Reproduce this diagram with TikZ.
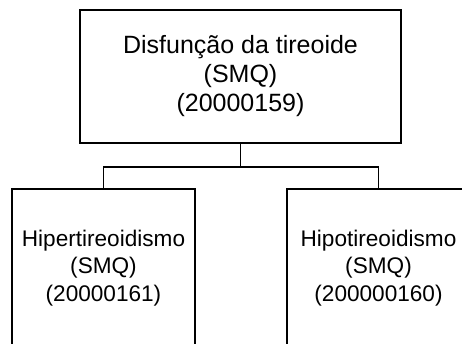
\documentclass[tikz,border=0pt]{standalone}
\usepackage{fontspec}
\setmainfont{Liberation Sans}
\begin{document}
\begin{tikzpicture}[x=1pt,y=-1pt,
  box/.style={draw=black, line width=1.6pt, rectangle, inner sep=0pt, align=center},
  topbox/.style={box, minimum width=321pt, minimum height=133pt, font=\fontsize{25}{29}\selectfont},
  subbox/.style={box, minimum width=183pt, minimum height=158pt, font=\fontsize{22.6}{27.5}\selectfont},
  link/.style={draw=black, line width=1.6pt}]
\useasboundingbox (0,0) rectangle (462,344);
\clip (0,0) rectangle (462,344);
\node[topbox] (top) at (240.5,76.5) {Disfunção da tireoide\\(SMQ)\\(20000159)};
\node[subbox] (left) at (103.5,268) {Hipertireoidismo\\(SMQ)\\(20000161)};
\node[subbox] (right) at (378.5,268) {Hipotireoidismo\\(SMQ)\\(200000160)};
\coordinate (bus) at (240.5,167);
\draw[link] (top.south) -- (bus);
\draw[link] (bus) -| (left.north);
\draw[link] (bus) -| (right.north);
\end{tikzpicture}
\end{document}
